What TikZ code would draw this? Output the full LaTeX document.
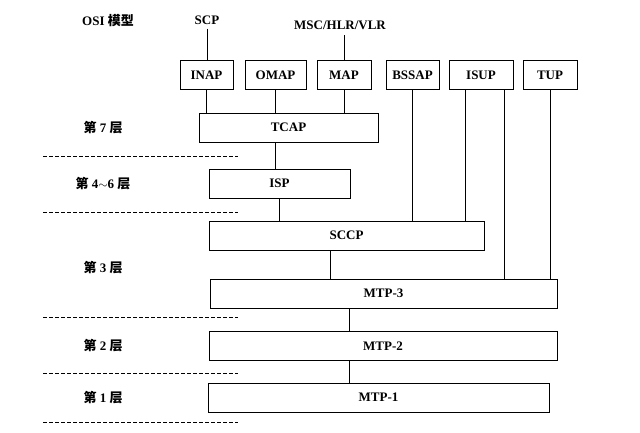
\documentclass[tikz,border=0pt]{standalone}
\usepackage{fontspec}
\setmainfont{Liberation Serif}
\newfontfamily\cjk{Noto Sans CJK SC}
\usetikzlibrary{calc}
\tikzset{
	blk/.style={draw, line width=0.9pt, inner sep=0pt, minimum height=29pt},
	lnk/.style={line width=0.6pt},
	sep/.style={line width=0.7pt, dash pattern=on 4pt off 2pt},
	lbl/.style={inner sep=1pt}
}

\begin{document}
\begin{tikzpicture}[x=1pt, y=-1pt, font=\fontsize{13}{15}\selectfont\bfseries]
		%%%%% START %%%%%
		\useasboundingbox (0,0) rectangle (640,433);
		
		\node[lbl] (osi) at (108, 21) {OSI {\cjk 模型}};
		\node[lbl] (scp) at (207, 20) {SCP};
		\node[lbl] (msc) at (340, 25) {MSC/HLR/VLR};
		
		\node[blk, minimum width=53pt] (inap) at (206.5, 75) {INAP};
		\node[blk, minimum width=61pt] (omap) at (275.5, 75) {OMAP};
		\node[blk, minimum width=54pt] (map) at (344, 75) {MAP};
		\node[blk, minimum width=53pt] (bssap) at (412.5, 75) {BSSAP};
		\node[blk, minimum width=64pt] (isup) at (481, 75) {ISUP};
		\node[blk, minimum width=54pt] (tup) at (550, 75) {TUP};
		
		\node[blk, minimum width=179pt] (tcap) at (288.5, 127.5) {TCAP};
		\node[blk, minimum width=141pt] (isp) at (279.5, 183.5) {ISP};
		\node[blk, minimum width=275pt] (sccp) at (346.5, 235.5) {SCCP};
		\node[blk, minimum width=347pt] (mtp3) at (383.5, 293.5) {MTP-3};
		\node[blk, minimum width=348pt] (mtp2) at (383, 346) {MTP-2};
		\node[blk, minimum width=341pt] (mtp1) at (378.5, 397.5) {MTP-1};
		
		\node[lbl] (l7) at (103, 128) {{\cjk 第} 7 {\cjk 层}};
		\node[lbl] (l46) at (103, 184) {{\cjk 第} 4$\sim$6 {\cjk 层}};
		\node[lbl] (l3) at (103, 268) {{\cjk 第} 3 {\cjk 层}};
		\node[lbl] (l2) at (103, 346) {{\cjk 第} 2 {\cjk 层}};
		\node[lbl] (l1) at (103, 398) {{\cjk 第} 1 {\cjk 层}};
		
		% layer borders
		\foreach \y in {156, 212, 317, 373, 422}
			\draw[sep] (43, \y) -- (238, \y);
		
		\coordinate (isupa) at ([xshift=-16pt]isup.south);
		\coordinate (isupb) at ([xshift=23pt]isup.south);
		\coordinate (sccpa) at ([xshift=-16.5pt]sccp.south);
		\coordinate (mtpa) at ([xshift=-34.5pt]mtp3.south);
		
		\draw[lnk, shorten <=3pt] (scp) -- (scp |- inap.north);
		\draw[lnk, shorten >=4pt] (map.north) -- (map |- msc.south);
		
		\draw[lnk] (inap.south) -- (inap |- tcap.north);
		\draw[lnk] (omap.south) -- (omap |- tcap.north);
		\draw[lnk] (map.south) -- (map |- tcap.north);
		\draw[lnk] (omap |- tcap.south) -- (omap |- isp.north);
		\draw[lnk] (isp.south) -- (isp |- sccp.north);
		
		\draw[lnk] (bssap.south) -- (bssap |- sccp.north);
		\draw[lnk] (isupa) -- (isupa |- sccp.north);
		\draw[lnk] (isupb) -- (isupb |- mtp3.north);
		\draw[lnk] (tup.south) -- (tup |- mtp3.north);
		
		\draw[lnk] (sccpa) -- (sccpa |- mtp3.north);
		\draw[lnk] (mtpa) -- (mtpa |- mtp2.north);
		\draw[lnk] (mtpa |- mtp2.south) -- (mtpa |- mtp1.north);
		%%%%% END %%%%%
\end{tikzpicture}
\end{document}
